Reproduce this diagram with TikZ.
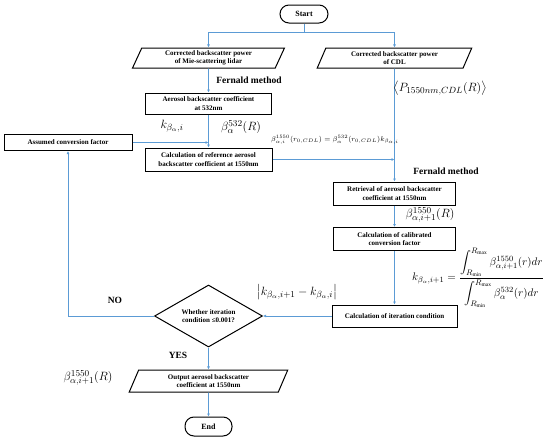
\documentclass[tikz,border=0pt]{standalone}
\usepackage{amsmath}
\usepackage{fontspec}
\setmainfont{Liberation Serif}
\usetikzlibrary{shapes.geometric,arrows.meta}
\definecolor{flowblue}{HTML}{5B9BD5}
\begin{document}
\begin{tikzpicture}[x=1pt,y=-1pt,
                    box/.style={draw, line width=1pt, rectangle, align=center, inner sep=1pt,
                                font=\bfseries\fontsize{7}{8.5}\selectfont},
                    para/.style={box, trapezium, trapezium left angle=70, trapezium right angle=110,
                                 trapezium stretches=true},
                    term/.style={box, rounded corners=9pt, font=\bfseries\fontsize{8}{9}\selectfont},
                    decision/.style={box, diamond, aspect=1.75, inner sep=0pt},
                    flow/.style={draw=flowblue, line width=0.6pt, -{Latex[length=3pt,width=3pt]}},
                    tag/.style={font=\bfseries\fontsize{9.5}{10}\selectfont},
                    eq/.style={inner sep=0.5pt, font=\fontsize{12.5}{14}\selectfont}
                    ]
                    \useasboundingbox (0,0) rectangle (550,442);

                    % flow chart
                    \node[term, minimum width=48pt, minimum height=18pt] (start) at (304,14) {Start};
                    \node[para, minimum width=152pt, minimum height=20pt] (mie) at (208.5,58) {Corrected backscatter power\\of Mie-scattering lidar};
                    \node[para, minimum width=156pt, minimum height=20pt] (cdl) at (394.5,58) {Corrected backscatter power\\of CDL};
                    \node[box, minimum width=126pt, minimum height=21pt] (aer) at (208.5,103.5) {Aerosol backscatter coefficient\\at 532nm};
                    \node[box, minimum width=128pt, minimum height=16pt] (assumed) at (68,142.5) {Assumed conversion factor};
                    \node[box, minimum width=127pt, minimum height=23pt] (calcref) at (208.5,159.5) {Calculation of reference aerosol\\backscatter coefficient at 1550nm};
                    \node[box, minimum width=122pt, minimum height=23pt] (retr) at (394.5,193.5) {Retrieval of aerosol backscatter\\coefficient at 1550nm};
                    \node[box, minimum width=122pt, minimum height=23pt] (calib) at (394.5,239) {Calculation of calibrated\\conversion factor};
                    \node[box, minimum width=125pt, minimum height=22pt] (iter) at (394.5,316) {Calculation of iteration condition};
                    \node[decision, minimum width=108pt, minimum height=62pt] (cond) at (208.5,316) {Whether iteration\\condition ≤0.001?};
                    \node[para, minimum width=160pt, minimum height=22pt] (output) at (208.5,381) {Output aerosol backscatter\\coefficient at 1550nm};
                    \node[term, minimum width=47pt, minimum height=19pt] (stop) at (208.5,426.5) {End};

                    \coordinate (split) at (304,32);
                    \coordinate (join) at (208.5,142.5);

                    \draw[flow, -] (start) -- (split);
                    \draw[flow] (split) -| (mie);
                    \draw[flow] (split) -| (cdl);
                    \foreach \i/\j in {mie/aer,aer/calcref,cdl/retr,retr/calib,calib/iter,cond/output,output/stop}{
                        \draw[flow] (\i) -- (\j);
                    }
                    \draw[flow] (assumed) -- (join);
                    \draw[flow] (calcref.east) -- (calcref.east -| cdl.south);
                    \draw[flow] (iter) -- (cond);
                    \draw[flow] (cond.west) -| (assumed);

                    % labels
                    \node[tag] (fernleft) at (249,80) {Fernald method};
                    \node[tag] (fernright) at (446,171) {Fernald method};
                    \node[tag] (no) at (115,300) {NO};
                    \node[tag] (yes) at (178,355) {YES};

                    \node[eq] (kstart) at (172,126) {$k_{\beta_\alpha,i}$};
                    \node[eq] (beta532) at (241,127) {$\beta_\alpha^{532}(R)$};
                    \node[inner sep=0.5pt, font=\fontsize{7}{8}\selectfont] (betaref) at (335,140) {$\beta_{\alpha,i}^{1550}(r_{0,CDL})=\beta_\alpha^{532}(r_{0,CDL})k_{\beta_{\alpha,i}}$};
                    \node[eq] (pcdl) at (440,88) {$\left\langle P_{1550nm,CDL}(R)\right\rangle$};
                    \node[eq] (betaret) at (430,215) {$\beta_{\alpha,i+1}^{1550}(R)$};
                    \node[inner sep=0.5pt, font=\fontsize{11}{13}\selectfont] (kcal) at (478,278) {$k_{\beta_\alpha,i+1}=\dfrac{\displaystyle\int_{R_{\min}}^{R_{\max}}\beta_{\alpha,i+1}^{1550}(r)dr}{\displaystyle\int_{R_{\min}}^{R_{\max}}\beta_\alpha^{532}(r)dr}$};
                    \node[eq] (kdiff) at (297,292) {$\left|k_{\beta_\alpha,i+1}-k_{\beta_\alpha,i}\right|$};
                    \node[eq] (betaout) at (88,378) {$\beta_{\alpha,i+1}^{1550}(R)$};
                \end{tikzpicture}
\end{document}
